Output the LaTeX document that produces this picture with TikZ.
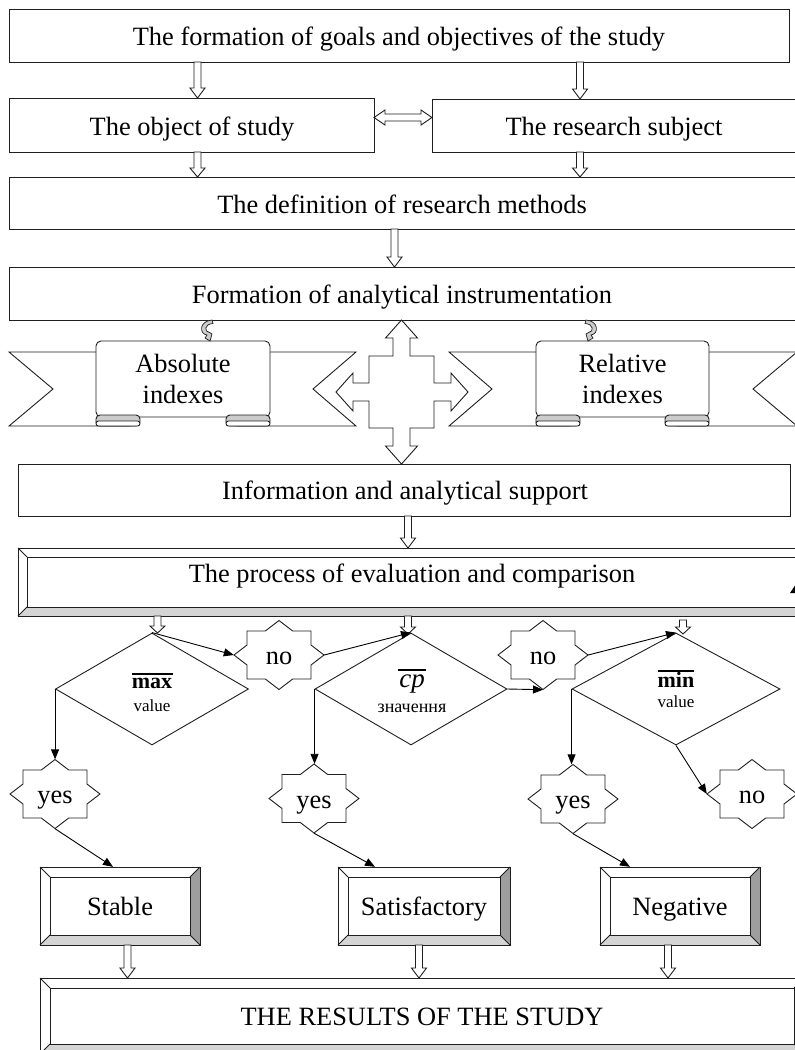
\documentclass[tikz,border=0pt]{standalone}
\usepackage{fontspec}
\setmainfont{Liberation Serif}
\usetikzlibrary{arrows.meta,shapes.geometric}
\definecolor{bevdark}{gray}{0.62}
\definecolor{bevlight}{gray}{0.83}
\definecolor{rollgray}{gray}{0.80}
\definecolor{lncol}{gray}{0.12}
% hollow block arrow pointing down: x, ytop, ybottom, head length
\newcommand{\myhdown}[4]{\draw[harrow] ({#1-3.5},#2) -- ({#1+3.5},#2) -- ({#1+3.5},{#3-#4}) -- ({#1+7.5},{#3-#4}) -- (#1,#3) -- ({#1-7.5},{#3-#4}) -- ({#1-3.5},{#3-#4}) -- cycle;}
% plain box node: name, x1, y1, x2, y2
\newcommand{\myboxat}[5]{\node[plainbox, minimum width={(#4-#2)*1pt}, minimum height={(#5-#3)*1pt}] (#1) at ({(#2+#4)/2},{(#3+#5)/2}) {};}
% bevelled box: name, x1, y1, x2, y2, depth
\newcommand{\mybevel}[6]{%
 \fill[white] (#2,#3) rectangle (#4,#5);
 \fill[bevdark] (#4,#3) -- (#4,#5) -- ({#4-#6},{#5-#6}) -- ({#4-#6},{#3+#6}) -- cycle;
 \fill[bevlight] (#2,#5) -- (#4,#5) -- ({#4-#6},{#5-#6}) -- ({#2+#6},{#5-#6}) -- cycle;
 \draw[ln] (#2,#3) rectangle (#4,#5);
 \draw[ln] ({#2+#6},{#3+#6}) rectangle ({#4-#6},{#5-#6});
 \draw[ln] (#2,#3) -- ({#2+#6},{#3+#6}) (#4,#3) -- ({#4-#6},{#3+#6}) (#4,#5) -- ({#4-#6},{#5-#6}) (#2,#5) -- ({#2+#6},{#5-#6});
 \node[inner sep=0pt, minimum width={(#4-#2)*1pt}, minimum height={(#5-#3)*1pt}] (#1) at ({(#2+#4)/2},{(#3+#5)/2}) {};}
% scroll: name, x1, y1, x2, y2
\newcommand{\myscroll}[5]{%
 \draw[ln, fill=white, rounded corners=5] (#2,#3) rectangle (#4,#5);
 \node[inner sep=0pt, minimum width={(#4-#2)*1pt}, minimum height={(#5-#3)*1pt}] (#1) at ({(#2+#4)/2},{(#3+#5)/2}) {};
 \draw[ln, fill=rollgray, rounded corners=4] (#2,{#5-2}) rectangle ({#2+44},{#5+9});
 \draw[ln, fill=white, rounded corners=2.5] (#2,{#5+4}) rectangle ({#2+44},{#5+9});
 \draw[ln, fill=rollgray, rounded corners=4] ({#4-44},{#5-2}) rectangle (#4,{#5+9});
 \draw[ln, fill=white, rounded corners=2.5] ({#4-44},{#5+4}) rectangle (#4,{#5+9});}
% curly arrow: x, y, xscale
\newcommand{\mycurly}[3]{\draw[ln, line width=0.7pt, fill=rollgray, shift={(#1,#2)}, xscale=#3] (4,0) .. controls (-9,1) and (-9,14) .. (-1,15) -- (-3,18) -- (2,21) -- (4,14) -- (1.5,12.5) .. controls (-4,12) and (-4,4) .. (5,3.5) -- cycle;}
% eight point star: name, cx, cy
\newcommand{\mystar}[3]{%
 \node[starnode] (#1) at (#2,#3) {};
 \draw[ln, fill=white, shift={(#2,#3)}] (0,-34.5) -- (13.7,-24) -- (32,-24) -- (32,-10) -- (45,0) -- (32,10) -- (32,24) -- (13.7,24) -- (0,34.5) -- (-13.7,24) -- (-32,24) -- (-32,10) -- (-45,0) -- (-32,-10) -- (-32,-24) -- (-13.7,-24) -- cycle;}
\begin{document}
\begin{tikzpicture}[x=1pt,y=-1pt,
 ln/.style={draw=lncol, line width=0.9pt},
 plainbox/.style={ln, fill=white, rectangle, inner sep=0pt},
 harrow/.style={ln, fill=white, line join=miter},
 txt/.style={inner sep=0pt, anchor=base, font=\fontsize{26.4}{30}\selectfont},
 smalltxt/.style={inner sep=0pt, anchor=base, font=\fontsize{17}{20}\selectfont},
 boldtxt/.style={inner sep=0pt, anchor=base, font=\fontsize{22}{24}\selectfont\bfseries},
 ovl/.style={draw=black, line width=1.5pt},
 conn/.style={draw=black, line width=0.9pt, -{Triangle[length=10pt,width=8pt]}},
 dia/.style={diamond, ln, fill=white, inner sep=0pt},
 starnode/.style={inner sep=0pt, minimum width=90pt, minimum height=69pt}]
\useasboundingbox (0,0) rectangle (795,1050);
\fill[white] (0,0) rectangle (795,1050);

% ---------- top boxes ----------
\myboxat{goals}{9}{9}{789}{62}
\myboxat{object}{9}{98}{374}{152}
\myboxat{subject}{432}{99}{797}{152}
\myboxat{methods}{9}{177}{797}{229}
\myboxat{instr}{9}{267}{797}{320}
\myboxat{info}{18}{464}{790}{516}

\myhdown{197.5}{62}{98}{10}
\myhdown{580}{62}{99}{10}
\myhdown{197.5}{152}{177}{9}
\myhdown{580}{152}{177}{9}
\myhdown{394.5}{229}{267}{10}
\myhdown{408}{516}{548}{10}
\draw[harrow] (374,117.5) -- (385,110) -- (385,114) -- (421,114) -- (421,110) -- (432,117.5) -- (421,125) -- (421,121) -- (385,121) -- (385,125) -- cycle;

% ---------- ribbons ----------
\draw[ln, fill=white, line join=miter] (9,352) -- (130,352) -- (130,426) -- (9,426) -- (53,389) -- cycle;
\draw[ln, fill=white, line join=miter] (236,352) -- (356,352) -- (313,389) -- (356,426) -- (236,426) -- cycle;
\myscroll{absS}{96}{341}{270}{417}
\draw[ln, fill=white, line join=miter] (449,352) -- (570,352) -- (570,426) -- (449,426) -- (492,389) -- cycle;
\draw[ln, fill=white, line join=miter] (676,352) -- (797,352) -- (753,389) -- (797,426) -- (676,426) -- cycle;
\myscroll{relS}{536}{341}{709}{417}
\mycurly{208}{320}{1}
\mycurly{590}{320}{-1}

% ---------- four-way arrow ----------
\draw[harrow] (401.5,320) -- (417.5,338) -- (410,338) -- (410,356) -- (434,356) -- (434,383) -- (451,383) -- (451,373) -- (468,392) -- (451,411) -- (451,401) -- (434,401) -- (434,428) -- (410,428) -- (410,446) -- (417.5,446) -- (401.5,464) -- (385.5,446) -- (393,446) -- (393,428) -- (369,428) -- (369,401) -- (353,401) -- (353,411) -- (336,392) -- (353,373) -- (353,383) -- (369,383) -- (369,356) -- (393,356) -- (393,338) -- (385.5,338) -- cycle;

% ---------- process bar ----------
\mybevel{process}{18}{548}{812}{616}{9}
\fill[black] (790,593) -- (796,584) -- (796,593) -- cycle;

% ---------- decisions ----------
\node[dia, minimum width=193pt, minimum height=112pt] (d1) at (152,689) {};
\node[dia, minimum width=192pt, minimum height=112pt] (d2) at (411,689) {};
\node[dia, minimum width=208pt, minimum height=112pt] (d3) at (676,689) {};
\myhdown{157.5}{616}{633}{7}
\myhdown{408}{616}{634}{7}
\myhdown{683}{620}{634}{7}

\mystar{no1}{279}{655}
\mystar{no2}{543}{655}
\mystar{no3}{752}{794}
\mystar{yes1}{55}{794}
\mystar{yes2}{314}{798.5}
\mystar{yes3}{573}{799}

% ---------- result boxes ----------
\mybevel{stable}{40}{867}{200}{945}{10}
\mybevel{satisf}{338}{867}{510}{945}{10}
\mybevel{negat}{600}{867}{760}{945}{10}
\mybevel{results}{40}{978}{804}{1054}{10}
\myhdown{127.5}{945}{978}{10}
\myhdown{419}{945}{978}{10}
\myhdown{668}{945}{978}{10}

% ---------- connectors ----------
\draw[conn] (d1.north) -- (no1.west);
\draw[conn] (no1.east) -- (d2.north);
\draw[conn] (d2.east) -- (no2.south);
\draw[conn] (no2.east) -- (d3.north);
\draw[conn] (d1.west) -- (d1.west |- yes1.north);
\draw[conn] (d2.west) -- (d2.west |- yes2.north);
\draw[conn] (d3.west) -- (d3.west |- yes3.north);
\draw[conn] (d3.south) -- (no3.west);
\draw[conn] (yes1.south) -- ([xshift=-7pt]stable.north);
\draw[conn] (yes2.south) -- ([xshift=-49pt]satisf.north);
\draw[conn] (yes3.south) -- ([xshift=-50pt]negat.north);

% ---------- texts ----------
\node[txt] (tgoals) at (399,45) {The formation of goals and objectives of the study};
\node[txt] (tobject) at (192,135) {The object of study};
\node[txt] (tsubject) at (614,135) {The research subject};
\node[txt] (tmethods) at (402,213) {The definition of research methods};
\node[txt] (tinstr) at (402,303) {Formation of analytical instrumentation};
\node[txt] (tabs1) at (183,372) {Absolute};
\node[txt] (tabs2) at (183,403) {indexes};
\node[txt] (trel1) at (622.5,372) {Relative};
\node[txt] (trel2) at (622.5,403) {indexes};
\node[txt] (tinfo) at (405,499.5) {Information and analytical support};
\node[txt] (tproc) at (412,582) {The process of evaluation and comparison};

\node[boldtxt] (tmax) at (152,688) {max};
\draw[ovl] (132,674) -- (173,674);
\node[smalltxt] (tval1) at (152,711) {value};
\node[inner sep=0pt, anchor=base, font=\fontsize{27}{28}\selectfont\itshape] (tcp) at (412,687) {cp};
\draw[ovl] (398,670) -- (426,670);
\node[inner sep=0pt, anchor=base, font=\fontsize{18}{20}\selectfont] (tzn) at (412,712) {значення};
\node[boldtxt] (tmin) at (676,687) {min};
\draw[ovl] (658,671) -- (694,671);
\node[smalltxt] (tval3) at (676,707) {value};

\node[txt] (tno1) at (279,664.5) {no};
\node[txt] (tno2) at (543,664.5) {no};
\node[txt] (tno3) at (752,803.5) {no};
\node[txt] (tyes1) at (55,803.5) {yes};
\node[txt] (tyes2) at (314,808) {yes};
\node[txt] (tyes3) at (573,808.5) {yes};

\node[txt] (tstable) at (120,915) {Stable};
\node[txt] (tsatisf) at (424,915) {Satisfactory};
\node[txt] (tnegat) at (680,915) {Negative};
\node[txt] (tresults) at (422,1025) {THE RESULTS OF THE STUDY};
\end{tikzpicture}
\end{document}
